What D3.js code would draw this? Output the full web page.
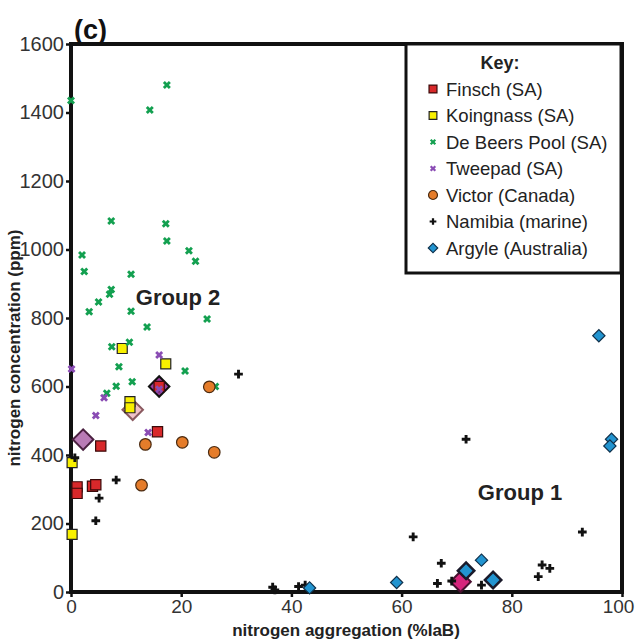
<!DOCTYPE html>
<html>

<head>
  <title>Nitrogen aggregation vs concentration</title>
  <script type="text/javascript" src="https://cdn.jsdelivr.net/npm/d3@7"></script>
  <style>
    body {
      margin: 0;
      background: white;
    }

    svg {
      font-family: "Liberation Sans", Arial, sans-serif;
    }
  </style>
</head>

<body>
  <script type="text/javascript">

    // data: [aggregation %IaB, nitrogen ppm]
    const finsch = [[15.7, 468], [5.4, 426], [1.1, 307], [1.1, 288], [3.9, 309], [4.5, 313], [16, 600]];
    const koingnass = [[9.3, 711], [17.2, 666], [10.7, 556], [10.7, 538], [0.2, 378], [0.2, 168]];
    const deBeers = [[0, 1435], [14.3, 1407], [17.4, 1480], [7.3, 1083], [2, 984], [2.4, 936], [3.3, 818],
    [5, 847], [7, 869], [7.3, 883], [10.9, 928], [10.9, 820], [13.8, 774], [17.2, 1075], [17.4, 1025],
    [21.4, 996], [22.6, 966], [24.7, 797], [7.4, 716], [10.6, 729], [8.7, 658], [20.7, 645],
    [11.1, 614], [8.2, 601], [6.5, 580], [26.2, 600]];
    const tweepad = [[0.1, 651], [16, 692], [6, 567], [4.5, 515], [14, 466], [16, 592]];
    const victor = [[13.5, 431], [20.2, 437], [26, 408], [12.8, 312], [25.1, 599]];
    const namibia = [[30.4, 636], [8.2, 327], [5.1, 274], [4.5, 208], [0.7, 392], [71.7, 446],
    [62.1, 161], [67.2, 84], [66.5, 25], [69.1, 32], [74.5, 20], [85.5, 79], [86.9, 69],
    [84.8, 45], [92.8, 175], [36.6, 14], [37, 6], [41.3, 16], [42.5, 20]];
    const argyle = [[95.8, 748], [98.1, 446], [97.8, 426], [74.5, 93], [59.1, 28], [43.3, 12],
    [71.7, 62], [76.6, 35]];
    const argyleLarge = [[71.7, 62], [76.6, 35]];
    // large outlined diamonds without a key entry
    const markedPoints = [[2.2, 445], [11.2, 532], [16, 600], [70.7, 30]];
    const markedFills = ["#b97bb6", "#f1c3c8", "#9a3f9e", "#d6267c"];
    const markedStrokes = ["#4a2040", "#8a5a60", "#111", "#4a1030"];

    const xTicks = [0, 20, 40, 60, 80, 100];
    const yTicks = [0, 200, 400, 600, 800, 1000, 1200, 1400, 1600];

    const keyNames = ["Finsch (SA)", "Koingnass (SA)", "De Beers Pool (SA)", "Tweepad (SA)",
      "Victor (Canada)", "Namibia (marine)", "Argyle (Australia)"];

    const w = 636;
    const h = 640;
    const margin = { left: 71, top: 44, right: 14, bottom: 48 };

    const xScale = d3.scaleLinear().domain([0, 100]).range([margin.left, w - margin.right]);
    const yScale = d3.scaleLinear().domain([0, 1600]).range([h - margin.bottom, margin.top]);

    const svg = d3.select("body")
      .append("svg")
      .attr("width", w)
      .attr("height", h);

    // marker styles for each series
    const styles = [
      { data: finsch, type: d3.symbolSquare, size: 105, fill: "#d8282a", stroke: "#3a0a0a", rot: 0 },
      { data: koingnass, type: d3.symbolSquare, size: 100, fill: "#f8f000", stroke: "#222", rot: 0 },
      { data: deBeers, type: d3.symbolCross, size: 40, fill: "#13a050", stroke: "none", rot: 45 },
      { data: tweepad, type: d3.symbolCross, size: 40, fill: "#8a4cb4", stroke: "none", rot: 45 },
      { data: victor, type: d3.symbolCircle, size: 105, fill: "#e57c2a", stroke: "#4a2a10", rot: 0 },
      { data: namibia, type: d3.symbolCross, size: 42, fill: "#111", stroke: "none", rot: 0 },
      { data: argyle, type: d3.symbolSquare, size: 75, fill: "#2294d0", stroke: "#10304a", rot: 45 }
    ];

    // axes
    const plot = svg.append("g");

    const xAxis = d3.axisBottom(xScale).tickValues(xTicks).tickFormat(d3.format("d"))
      .tickSize(5).tickPadding(3);
    const yAxis = d3.axisLeft(yScale).tickValues(yTicks).tickFormat(d3.format("d"))
      .tickSize(5).tickPadding(2);

    const gx = plot.append("g")
      .attr("transform", "translate(0," + yScale(0) + ")")
      .call(xAxis);
    const gy = plot.append("g")
      .attr("transform", "translate(" + xScale(0) + ",0)")
      .call(yAxis);

    [gx, gy].forEach(function (g) {
      g.select(".domain").remove();
      g.selectAll(".tick line").attr("stroke", "#111").attr("stroke-width", 2.5);
      g.selectAll(".tick text")
        .attr("fill", "#333")
        .style("font-size", "20px");
    });
    gx.selectAll(".tick text").style("font-size", "19px");
    // keep the last x label inside the page
    gx.selectAll(".tick text").filter(function (d) { return d === 100; }).attr("dx", "-4");

    // frame
    plot.append("rect")
      .attr("x", xScale(0))
      .attr("y", yScale(1600))
      .attr("width", xScale(100) - xScale(0))
      .attr("height", yScale(0) - yScale(1600))
      .attr("fill", "none")
      .attr("stroke", "#111")
      .attr("stroke-width", 4);

    // big diamonds first
    plot.selectAll(".marked")
      .data(markedPoints)
      .enter()
      .append("path")
      .attr("d", d3.symbol().type(d3.symbolSquare).size(210))
      .attr("transform", function (d) {
        return "translate(" + xScale(d[0]) + "," + yScale(d[1]) + ") rotate(45)";
      })
      .attr("fill", function (d, i) { return markedFills[i]; })
      .attr("stroke", function (d, i) { return markedStrokes[i]; })
      .attr("stroke-width", 2);

    styles.forEach(function (s) {
      plot.append("g")
        .selectAll("path")
        .data(s.data)
        .enter()
        .append("path")
        .attr("d", d3.symbol().type(s.type).size(s.size))
        .attr("transform", function (d) {
          return "translate(" + xScale(d[0]) + "," + yScale(d[1]) + ") rotate(" + s.rot + ")";
        })
        .attr("fill", s.fill)
        .attr("stroke", s.stroke)
        .attr("stroke-width", 1.2);
    });

    // the two bigger Argyle diamonds
    plot.append("g")
      .selectAll("path")
      .data(argyleLarge)
      .enter()
      .append("path")
      .attr("d", d3.symbol().type(d3.symbolSquare).size(135))
      .attr("transform", function (d) {
        return "translate(" + xScale(d[0]) + "," + yScale(d[1]) + ") rotate(45)";
      })
      .attr("fill", "#2294d0")
      .attr("stroke", "#1a1a2a")
      .attr("stroke-width", 2.5);

    // labels
    svg.append("text")
      .attr("x", 74)
      .attr("y", 39)
      .attr("font-size", "27px")
      .attr("font-weight", "bold")
      .attr("fill", "#111")
      .text("(c)");

    svg.append("text")
      .attr("x", 178)
      .attr("y", 305)
      .attr("text-anchor", "middle")
      .attr("font-size", "22px")
      .attr("font-weight", "bold")
      .attr("fill", "#222")
      .text("Group 2");

    svg.append("text")
      .attr("x", 520)
      .attr("y", 500)
      .attr("text-anchor", "middle")
      .attr("font-size", "22px")
      .attr("font-weight", "bold")
      .attr("fill", "#222")
      .text("Group 1");

    svg.append("text")
      .attr("x", 346)
      .attr("y", 636)
      .attr("text-anchor", "middle")
      .attr("font-size", "17px")
      .attr("font-weight", "bold")
      .attr("fill", "#222")
      .text("nitrogen aggregation (%IaB)");

    svg.append("text")
      .attr("transform", "translate(20,348) rotate(-90)")
      .attr("text-anchor", "middle")
      .attr("font-size", "17px")
      .attr("font-weight", "bold")
      .attr("fill", "#222")
      .text("nitrogen concentration (ppm)");

    // key box
    const key = svg.append("g");
    key.append("rect")
      .attr("x", 406)
      .attr("y", 44)
      .attr("width", 215)
      .attr("height", 229)
      .attr("fill", "white")
      .attr("stroke", "#111")
      .attr("stroke-width", 3);

    key.append("text")
      .attr("x", 500)
      .attr("y", 69)
      .attr("text-anchor", "middle")
      .attr("font-size", "18px")
      .attr("font-weight", "bold")
      .attr("fill", "#222")
      .text("Key:");

    keyNames.forEach(function (name, i) {
      const s = styles[i];
      const y = 89 + i * 26.5;
      key.append("path")
        .attr("d", d3.symbol().type(s.type).size(s.size * 0.6))
        .attr("transform", "translate(433," + y + ") rotate(" + s.rot + ")")
        .attr("fill", s.fill)
        .attr("stroke", s.stroke)
        .attr("stroke-width", 1.2);
      key.append("text")
        .attr("x", 446)
        .attr("y", y + 6.5)
        .attr("font-size", "18.5px")
        .attr("fill", "#222")
        .text(name);
    });

  </script>
</body>

</html>
